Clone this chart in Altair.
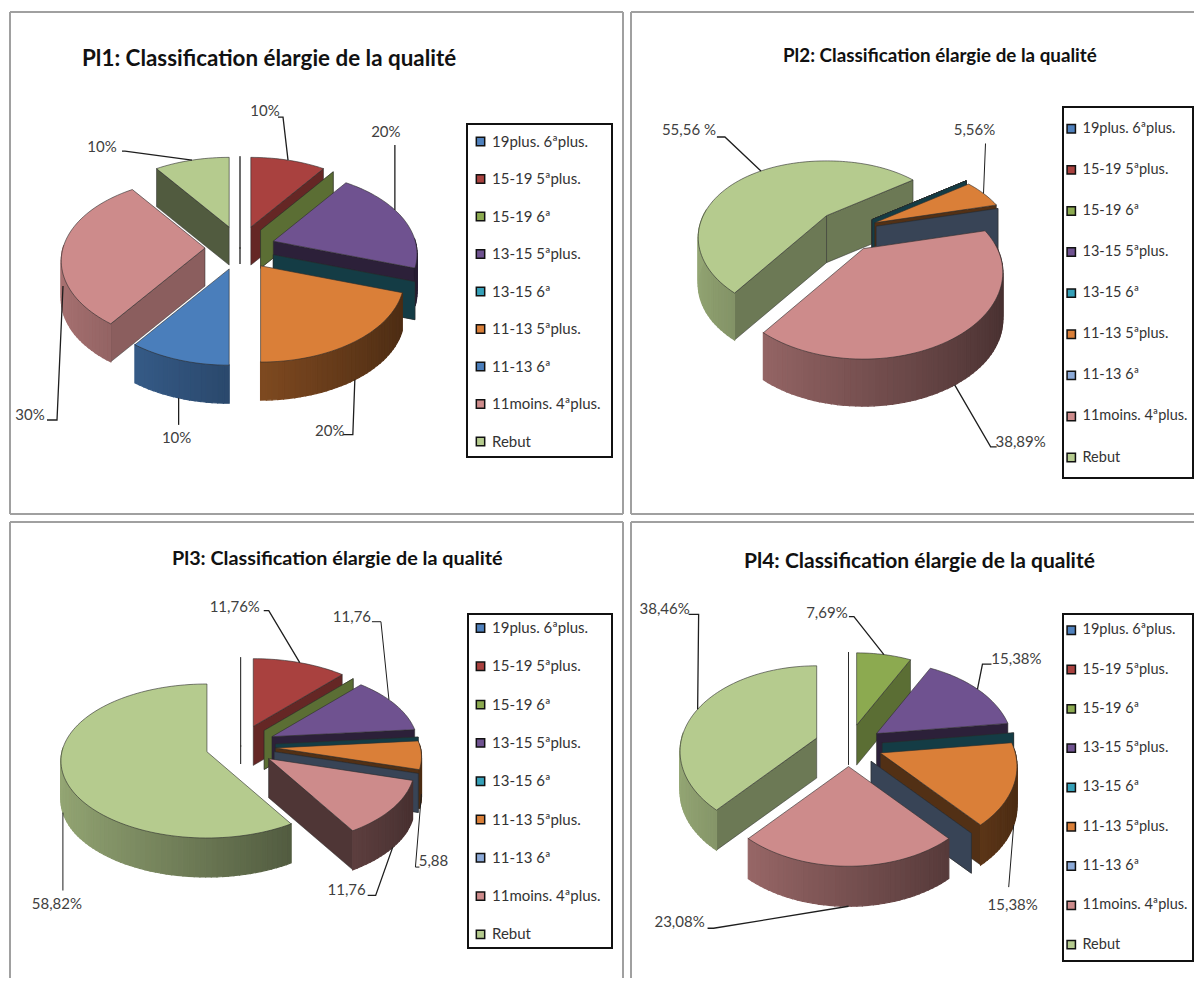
import math
import altair as alt
import pandas as pd

alt.data_transformers.disable_max_rows()

categories = ["19plus. 6ªplus.", "15-19 5ªplus.", "15-19 6ª", "13-15 5ªplus.", "13-15 6ª",
              "11-13 5ªplus.", "11-13 6ª", "11moins. 4ªplus.", "Rebut"]

values_pl1 = [0, 10, 0, 20, 0, 20, 10, 30, 10]
values_pl2 = [0, 0, 0, 0, 0, 5.56, 0, 38.89, 55.56]
values_pl3 = [0, 11.76, 0, 11.76, 0, 5.88, 0, 11.76, 58.82]
values_pl4 = [0, 0, 7.69, 15.38, 0, 15.38, 0, 23.08, 38.46]

titles = ["Pl1: Classification élargie de la qualité", "Pl2: Classification élargie de la qualité",
          "Pl3: Classification élargie de la qualité", "Pl4: Classification élargie de la qualité"]

colors = ["#4F81BD", "#A9413F", "#8CAA50", "#6F5290", "#35A0B8", "#DA7F38", "#8CAAD8", "#CD8B8B", "#B5CB8E"]
wall_shade = [0.5, 0.6, 0.65, 0.4, 0.38, 0.38, 0.4, 0.68, 0.6]

FONT = "Lato"


def darken(hex_color, f):
    r, g, b = (int(hex_color[i:i + 2], 16) for i in (1, 3, 5))
    return "#%02x%02x%02x" % (int(r * f), int(g * f), int(b * f))


panels = [
    dict(values=values_pl1, title=titles[0], w=613, h=502, c=(230, 236), rx=142, ry=83, k=.16, ex=35, ey=22, depth=38, rot=0,
         title_pos=(72, 59, 22.4), frame=(457, 112, 602, 445), legend=(463, 122, 21.5), lab=15, cols={6: "#4A7EBB"}, shade={8: .45},
         rs={}, sides=("left", "right", "bottom"),
         labels=[(1, "10%", .5, -5, -43, -5, 0, -13, -6, 1.3), (3, "20%", .42, 0, -65, 0, 0, -9, -13, 1.3),
                 (7, "30%", .5, -6, 134, -10, 0, -17, -5, 1.3), (6, "10%", .5, 0, 27, 0, 0, -2, 13, 1.3),
                 (5, "20%", .5, -2, 55, -10, 0, -13, -4, 1.3), (8, "10%", .5, -67, -9, -3, 0, -20, -4, 1.3)]),
    dict(values=values_pl2, title=titles[1], w=563, h=502, c=(216, 219), rx=134, ry=85, k=.3, ex=30, ey=21, depth=47, rot=57,
         title_pos=(152, 55, 18.8), frame=(432, 95, 562, 466), legend=(433, 109.5, 25.1), lab=14.5, cols={}, shade={},
         rs={8: .92}, sides=("left", "bottom"),
         labels=[(8, "55,56 %", .5, -36, -34, -8, 0, -28, -7, 1.3), (5, "5,56%", .5, 2, -50, 0, 0, -11, -13, 1),
                 (7, "38,89%", .5, 36, 62, 6, 0, 24, -5, 1.3)]),
    dict(values=values_pl3, title=titles[2], w=613, h=456, c=(230.6, 224), rx=145, ry=77, k=.12, ex=35, ey=21, depth=39, rot=0,
         title_pos=(162, 48, 19.8), frame=(458, 92, 602, 426), legend=(463, 98.5, 22.3), lab=15, cols={}, shade={7: .39},
         rs={}, sides=("left", "right"),
         labels=[(1, "11,76%", .5, -31, -52, -5, 0, -29, -4, 1.3), (3, "11,76", .4, -8, -78, -9, 0, -20, -5, 1),
                 (5, "5,88", .5, -6, 73, 4, 0, 14, -6, 1), (7, "11,76", .5, -17, 48, -8, 0, -21, -5, 1.3),
                 (8, "58,82%", .5, 0, 78, 0, 0, -6, 13, 1)]),
    dict(values=values_pl4, title=titles[3], w=563, h=456, c=(217.5, 223.5), rx=135, ry=86, k=.16, ex=34, ey=21, depth=40, rot=0,
         title_pos=(113, 51, 21), frame=(432, 92, 562, 439), legend=(433, 101, 23.3), lab=14.5, cols={}, shade={},
         rs={}, sides=("left",),
         labels=[(8, "38,46%", .5, 1, -95, -10, 0, -24, -5, 1.3), (2, "7,69%", .5, -30, -38, -5, 0, -22, -4, 1.3),
                 (3, "15,38%", .5, 5, -25, 9, 0, 25, -5, 1.3), (5, "15,38%", .5, -5, 62, 0, 0, 4, 18, 1),
                 (7, "23,08%", .5, -135, 22, -6, 0, -28, -6, 1.3)]),
]


def build(p):
    cx, cy = p["c"]
    total = sum(p["values"])
    cols = [p["cols"].get(i, c) for i, c in enumerate(colors)]

    def project(a, i=None):
        r = math.radians(a)
        s = (1 - p["k"] * math.cos(r)) * p["rs"].get(i, 1)
        return p["rx"] * math.sin(r) * s, -p["ry"] * math.cos(r) * s

    slices, start = [], p["rot"]
    for i, v in enumerate(p["values"]):
        sweep = v / total * 360
        mid = math.radians(start + sweep / 2)
        ax = cx + p["ex"] * math.sin(mid)
        ay = cy - p["ey"] * math.cos(mid)
        slices.append(dict(i=i, a0=start, a1=start + sweep, ax=ax, ay=ay, m=math.cos(mid), v=v))
        start += sweep

    rows, pid = [], 0

    def face(points, fill, stroke, sw):
        nonlocal pid
        pid += 1
        for n, (x, y) in enumerate(points):
            rows.append(dict(x=x, y=y, n=n, pid=pid, fill=fill, stroke=stroke, sw=sw))

    d = p["depth"]
    for s in sorted(slices, key=lambda q: -q["m"]):
        ax, ay, a0, a1, i = s["ax"], s["ay"], s["a0"], s["a1"], s["i"]
        top = cols[i]
        wall = darken(top, p["shade"].get(i, wall_shade[i]))
        edge = "#2b2b2b"
        rim_at = lambda a: (ax + project(a, i)[0], ay + project(a, i)[1])
        for a, visible in ((a0, math.sin(math.radians(a0)) < -1e-6 or s["v"] == 0),
                           (a1, math.sin(math.radians(a1)) > 1e-6 or s["v"] == 0)):
            if visible:
                x, y = rim_at(a)
                face([(ax, ay), (x, y), (x, y + d), (ax, ay + d)], wall, edge, 0.5)
        if s["v"] == 0:
            continue
        steps = max(2, int((a1 - a0) / 2))
        angles = [a0 + (a1 - a0) * t / steps for t in range(steps + 1)]
        for a, b in zip(angles, angles[1:]):
            if math.cos(math.radians((a + b) / 2)) < 0.05:
                sh = 0.58 - 0.24 * math.sin(math.radians((a + b) / 2))
                col = darken(top, sh)
                xa, ya = rim_at(a)
                xb, yb = rim_at(b)
                face([(xa, ya), (xb, yb), (xb, yb + d), (xa, ya + d)], col, col, 1.2)
        face([(ax, ay)] + [rim_at(a) for a in angles], top, edge, 0.6)

    leaders, texts = [], []
    for lid, (i, label, frac, ex, ey, nx, ny, tx, ty, w) in enumerate(p["labels"]):
        s = slices[i]
        a = s["a0"] + (s["a1"] - s["a0"]) * frac
        px, py = project(a, i)
        bx, by = s["ax"] + px, s["ay"] + py
        if math.cos(math.radians(a)) < 0:
            by += d
        ex_, ey_ = bx + ex, by + ey
        nx_, ny_ = ex_ + nx, ey_ + ny
        for n, (x, y) in enumerate([(bx, by), (ex_, ey_), (nx_, ny_)]):
            leaders.append(dict(x=x, y=y, n=n, lid=lid, w=w))
        texts.append(dict(x=nx_ + tx, y=ny_ + ty, text=label))

    return pd.DataFrame(rows), pd.DataFrame(leaders), pd.DataFrame(texts), cols


def frame_layers(p):
    w, h = p["w"], p["h"]
    rule = alt.Chart().mark_rule(color="#a0a0a0", strokeWidth=2)
    out = [rule.encode(x=alt.value(0), x2=alt.value(w), y=alt.value(0))]
    if "left" in p["sides"]:
        out.append(rule.encode(x=alt.value(0), y=alt.value(0), y2=alt.value(h)))
    if "right" in p["sides"]:
        out.append(rule.encode(x=alt.value(w), y=alt.value(0), y2=alt.value(h)))
    if "bottom" in p["sides"]:
        out.append(rule.encode(x=alt.value(0), x2=alt.value(w), y=alt.value(h)))
    x0, y0, x1, y1 = p["frame"]
    out.append(alt.Chart().mark_rect(fill="white", stroke="#111111", strokeWidth=2).encode(
        x=alt.value(x0), x2=alt.value(x1), y=alt.value(y0), y2=alt.value(y1)))
    return out


def make_panel(p):
    faces, leaders, texts, cols = build(p)
    w, h = p["w"], p["h"]
    X = lambda f: alt.X(f, type="quantitative", axis=None, scale=alt.Scale(domain=[0, w]))
    Y = lambda f: alt.Y(f, type="quantitative", axis=None, scale=alt.Scale(domain=[h, 0]))
    lx, ly, lrow = p["legend"]

    legend_df = pd.DataFrame(dict(cat=categories, x=[p["c"][0]] * 9, y=[p["c"][1]] * 9))
    key = alt.Chart(legend_df).mark_square(size=1).encode(
        x=X("x"), y=Y("y"),
        color=alt.Color("cat:N",
                        scale=alt.Scale(domain=categories, range=cols),
                        legend=alt.Legend(title=None, orient="none", legendX=lx, legendY=ly, padding=0,
                                          rowPadding=lrow, symbolType="square", symbolSize=70,
                                          symbolStrokeColor="#111111", symbolStrokeWidth=1.5, symbolOpacity=1,
                                          labelFont=FONT, labelFontSize=p["lab"], labelColor="#333333", labelLimit=200,
                                          labelOffset=4)),
    )
    shapes = alt.Chart(faces).mark_line(filled=True, interpolate="linear-closed").encode(
        x=X("x"), y=Y("y"), order=alt.Order("n:Q"), detail="pid:N",
        fill=alt.Fill("fill:N", scale=None), stroke=alt.Stroke("stroke:N", scale=None),
        strokeWidth=alt.StrokeWidth("sw:Q", scale=None),
    )
    lines = alt.Chart(leaders).mark_line(color="#1e1e1e").encode(
        x=X("x"), y=Y("y"), order=alt.Order("n:Q"), detail="lid:N",
        strokeWidth=alt.StrokeWidth("w:Q", scale=None),
    )
    labels = alt.Chart(texts).mark_text(font=FONT, fontSize=15, color="#404040", align="center", baseline="middle").encode(
        x=X("x"), y=Y("y"), text="text:N",
    )
    tx, ty, fs = p["title_pos"]
    return alt.layer(*frame_layers(p), key, shapes, lines, labels).properties(
        width=w, height=h,
        title=alt.TitleParams(p["title"], anchor="start", frame="group", dx=tx, dy=ty, offset=0, font=FONT, fontSize=fs,
                              fontWeight="bold", color="#111111"),
    )


chart = alt.concat(*[make_panel(p) for p in panels], columns=2, spacing=6).resolve_scale(
    color="independent", x="independent", y="independent",
).properties(
    padding={"left": 1, "top": 3, "right": 0, "bottom": 0}, background="white",
).configure_view(stroke=None)

chart.save("out.html", embed_options={"renderer": "svg", "actions": False})
